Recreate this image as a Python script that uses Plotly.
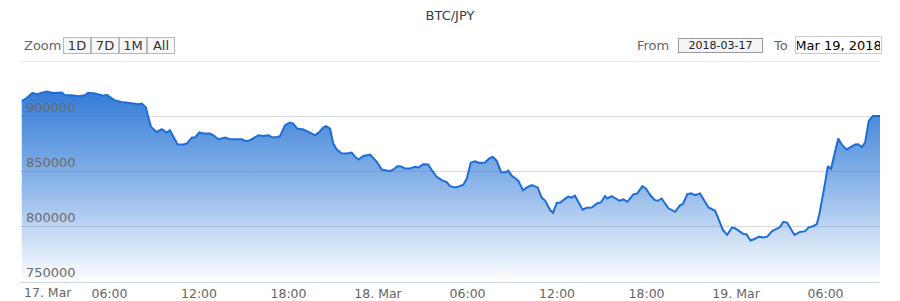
import pandas as pd
import plotly.graph_objects as go

# ---- data ----
start_time = "2018-03-17 00:00"
minutes_from_start = [7,27,50,67,107,133,168,181,208,235,261,274,302,335,349,382,409,442,476,490,506,516,527,550,570,590,603,633,657,671,691,704,721,737,764,778,798,825,845,892,909,925,959,979,999,1012,1026,1046,1066,1086,1099,1115,1140,1166,1186,1200,1220,1231,1247,1260,1274,1294,1314,1334,1348,1361,1381,1408,1435,1455,1475,1488,1502,1518,1529,1549,1569,1589,1602,1622,1642,1656,1676,1696,1716,1730,1750,1763,1783,1797,1813,1830,1847,1870,1888,1901,1917,1935,1954,1964,1978,2004,2023,2039,2058,2082,2098,2112,2132,2144,2159,2172,2185,2205,2219,2232,2263,2279,2300,2320,2336,2353,2362,2380,2411,2427,2443,2467,2483,2503,2517,2537,2554,2565,2581,2608,2635,2655,2666,2684,2699,2715,2735,2769,2796,2827,2844,2863,2876,2909,2922,2938,2952,2972,2990,3005,3025,3045,3057,3070,3085,3115,3137,3158,3172,3190,3205,3216,3228,3238,3249,3262,3291,3307,3325,3341,3359,3372,3386,3399,3414,3430,3459]
prices = [913800,916500,921200,919900,922300,921100,921400,919000,919000,918100,919000,921200,920500,918500,919400,914200,912900,912000,910800,911500,908100,899400,890300,885800,888300,885300,887400,874700,874400,875300,880800,880800,885300,884400,884400,882800,879200,880800,879200,879200,877400,878300,882800,882200,882800,881300,880800,881900,891900,894300,893400,888900,888000,885100,882800,884900,889800,891000,888900,875300,869900,866300,866300,867200,863200,860900,864100,865400,858700,851800,851200,850300,851800,854800,854800,852700,852700,854200,853600,856600,856400,851200,845200,842200,840400,836700,835600,836300,838100,843500,858000,859300,857800,858200,861800,863200,859800,849400,849400,850800,846100,841700,833100,835600,837700,835600,826400,823700,815100,812700,821700,821700,824100,827300,826400,828200,815500,817200,817400,821100,822000,827700,825600,827700,823500,824700,822600,829200,830200,836700,834700,828000,824100,823500,825600,816700,813500,819600,820500,829500,830200,828600,830200,817400,814500,797100,792600,799200,798600,793500,793300,787600,788700,791000,790300,791000,796100,798600,799700,804500,803800,792600,795300,796000,799500,800500,802400,812300,825900,839500,854800,852400,879800,873800,870000,872400,874500,874700,872000,876100,895800,900200,900300]

x_tick_times = ["2018-03-17 06:00","2018-03-17 12:00","2018-03-17 18:00","2018-03-18 00:00",
                "2018-03-18 06:00","2018-03-18 12:00","2018-03-18 18:00","2018-03-19 00:00",
                "2018-03-19 06:00"]
x_tick_text = ["06:00","12:00","18:00","18. Mar","06:00","12:00","18:00","19. Mar","06:00"]
first_day_label = "17. Mar"
y_tick_vals = [750000, 800000, 850000, 900000]
y_tick_text = ["750000", "800000", "850000", "900000"]
y_top = 950000
zoom_buttons = ["1D", "7D", "1M", "All"]
title_text = "BTC/JPY"
from_text = "2018-03-17"
to_text = "Mar 19, 2018"

# ---- build ----
t0 = pd.Timestamp(start_time)
times = t0 + pd.to_timedelta(minutes_from_start, unit="min")

W, H = 900, 301
ML, MR, MT, MB = 20, 20, 61, 19
PW, PH = W - ML - MR, H - MT - MB

def px(xp):
    return (xp - ML) / PW

def py(yp):
    return (H - MB - yp) / PH

fig = go.Figure()
fig.add_trace(go.Scatter(
    x=times, y=prices, mode="lines",
    line=dict(color="rgb(28,110,214)", width=2),
    fill="tozeroy",
    fillgradient=dict(type="vertical", start=750000, stop=max(prices),
                      colorscale=[[0, "rgba(52,124,215,0.0)"], [0.5, "rgba(52,124,215,0.55)"],
                                  [1, "rgba(52,124,215,1.0)"]]),
    hoverinfo="skip", showlegend=False,
))

font_family = "DejaVu Sans"
label_font = dict(family=font_family, size=12.5, color="#666666")
annotations = []
annotations.append(dict(x=t0, y=0, xref="x", yref="paper", text=first_day_label,
                        showarrow=False, xanchor="left", yanchor="top", xshift=2, yshift=-1,
                        font=label_font))
annotations.append(dict(x=px(22), y=py(45.5), xref="paper", yref="paper", text="Zoom",
                        showarrow=False, xanchor="left", yanchor="middle",
                        font=dict(family=font_family, size=13, color="#666666")))
btn_centers = [76.5, 104.5, 133, 161]
for label, cx in zip(zoom_buttons, btn_centers):
    annotations.append(dict(x=px(cx), y=py(45), xref="paper", yref="paper", text=label,
                            showarrow=False, xanchor="center", yanchor="middle",
                            width=24, height=13, borderpad=1, borderwidth=1,
                            bordercolor="#b8b8b8", bgcolor="#f7f7f7",
                            font=dict(family=font_family, size=13, color="#333333")))
annotations.append(dict(x=px(671), y=py(45.5), xref="paper", yref="paper", text="From",
                        showarrow=False, xanchor="right", yanchor="middle",
                        font=dict(family=font_family, size=13, color="#666666")))
annotations.append(dict(x=px(720.5), y=py(45.5), xref="paper", yref="paper", text=from_text,
                        showarrow=False, xanchor="center", yanchor="middle",
                        width=81, height=11, borderpad=1, borderwidth=1,
                        bordercolor="#9a9a9a", bgcolor="#f4f4f4",
                        font=dict(family=font_family, size=11, color="#222222")))
annotations.append(dict(x=px(790), y=py(45.5), xref="paper", yref="paper", text="To",
                        showarrow=False, xanchor="right", yanchor="middle",
                        font=dict(family=font_family, size=13, color="#666666")))
annotations.append(dict(x=px(838.5), y=py(45), xref="paper", yref="paper", text=to_text,
                        showarrow=False, xanchor="center", yanchor="middle",
                        width=83, height=14, borderpad=1, borderwidth=1,
                        bordercolor="#cccccc", bgcolor="#ffffff",
                        font=dict(family=font_family, size=13, color="#000000")))

fig.update_layout(
    width=W, height=H,
    margin=dict(l=ML, r=MR, t=MT, b=MB, pad=0, autoexpand=False),
    paper_bgcolor="white", plot_bgcolor="white",
    title=dict(text=title_text, x=0.5, xanchor="center", y=1 - 15 / H, yanchor="middle",
               font=dict(family=font_family, size=13, color="#33404f")),
    annotations=annotations,
    shapes=[dict(type="line", xref="paper", x0=0, x1=1, yref="y", y0=y_top, y1=y_top,
                 line=dict(color="#d9d9d9", width=1), layer="below")],
    xaxis=dict(
        range=[t0, times[-1]], type="date", automargin=False,
        tickmode="array", tickvals=pd.to_datetime(x_tick_times), ticktext=x_tick_text,
        showgrid=False, zeroline=False,
        showline=True, linecolor="#ccd6eb", linewidth=1,
        ticks="", ticklen=0,
        tickfont=label_font,
        fixedrange=True,
    ),
    yaxis=dict(
        range=[750000, y_top], automargin=False,
        tickmode="array", tickvals=y_tick_vals, ticktext=y_tick_text,
        showgrid=True, gridcolor="#d9d9d9", gridwidth=1,
        zeroline=False, showline=False, ticks="",
        ticklabelposition="inside top", ticklabelstandoff=3,
        tickfont=dict(family=font_family, size=13, color="#6a6a6a"),
        fixedrange=True,
    ),
)

fig.write_html("out.html")
